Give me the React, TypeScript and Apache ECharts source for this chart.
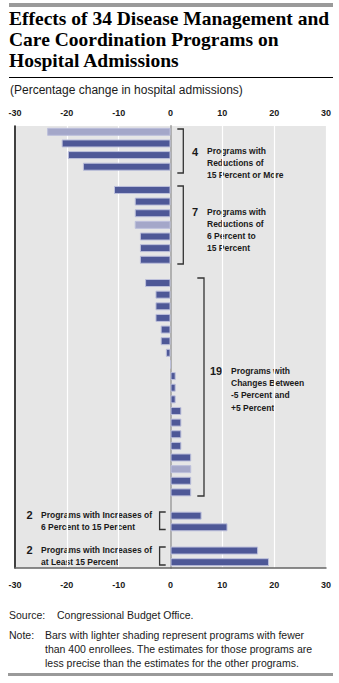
import React, { useEffect, useRef } from "react";
import * as echarts from "echarts";

// Percentage change in hospital admissions, by group
const reductions15OrMore = [-23.8, -21.0, -19.8, -16.9];
const reductions6To15 = [-10.9, -6.9, -6.9, -6.9, -5.9, -5.9, -5.9];
const changesWithin5 = [-4.9, -2.9, -2.9, -2.9, -1.9, -1.9, -0.9, 0, 1.0, 1.0, 1.0, 2.1, 2.1, 2.1, 2.1, 4.0, 4.0, 4.0, 4.0];
const increases6To15 = [6.0, 11.0];
const increases15OrMore = [16.9, 19.0];

// index (within each group) of programs with fewer than 400 enrollees (lighter shading)
const lightReductions15OrMore = [0];
const lightReductions6To15 = [3];
const lightChangesWithin5 = [16];
const lightIncreases6To15: number[] = [];
const lightIncreases15OrMore: number[] = [];

const xMin = -30;
const xMax = 30;
const xInterval = 10;

const DARK = "#4e5897";
const LIGHT = "#a4a7c9";

const groups = [
  { values: reductions15OrMore, light: lightReductions15OrMore },
  { values: reductions6To15, light: lightReductions6To15 },
  { values: changesWithin5, light: lightChangesWithin5 },
  { values: increases6To15, light: lightIncreases6To15 },
  { values: increases15OrMore, light: lightIncreases15OrMore },
];

const categories: string[] = [];
const barData: any[] = [];
let programNo = 0;
groups.forEach((g, gi) => {
  if (gi > 0) {
    categories.push("gap" + gi);
    barData.push("-");
  }
  g.values.forEach((v, i) => {
    programNo += 1;
    categories.push("P" + programNo);
    const isLight = g.light.includes(i);
    barData.push({
      value: v,
      itemStyle: { color: isLight ? LIGHT : DARK },
    });
  });
});

const SANS = "'Liberation Sans', Arial, sans-serif";
const SERIF = "'Liberation Serif', 'Times New Roman', serif";
const INK = "#1a1a1a";

function lines(x: number, yFirst: number, text: string, lh = 12) {
  return {
    type: "text",
    x,
    y: yFirst - lh / 2,
    style: {
      text,
      fill: INK,
      font: `bold 8.5px ${SANS}`,
      lineHeight: lh,
      verticalAlign: "top",
      align: "left",
    },
  };
}
function num(x: number, y: number, text: string) {
  return {
    type: "text",
    x,
    y,
    style: { text, fill: INK, font: `bold 11px ${SANS}`, verticalAlign: "middle", align: "left" },
  };
}
function bracket(xTick: number, xV: number, y1: number, y2: number) {
  return {
    type: "polyline",
    shape: { points: [[xTick, y1], [xV, y1], [xV, y2], [xTick, y2]] },
    style: { stroke: "#333", lineWidth: 1.3, fill: "none" },
  };
}

export default function App() {
  const ref = useRef<HTMLDivElement>(null);
  useEffect(() => {
    if (!ref.current) return;
    const chart = echarts.init(ref.current, null, { renderer: "svg" });
    chart.setOption({
      animation: false,
      backgroundColor: "#ffffff",
      grid: {
        left: 15,
        right: 13,
        top: 126,
        bottom: 115,
        show: true,
        backgroundColor: "#e6e6e6",
        borderWidth: 0,
      },
      xAxis: [
        {
          type: "value",
          min: xMin,
          max: xMax,
          interval: xInterval,
          position: "bottom",
          axisLine: { show: true, onZero: false, lineStyle: { color: "#666", width: 1.5 } },
          axisTick: { show: false },
          axisLabel: { margin: 12, color: INK, fontFamily: SANS, fontWeight: "bold", fontSize: 9 },
          splitLine: { show: true, lineStyle: { color: "#ffffff", width: 1.2 } },
        },
        {
          type: "value",
          min: xMin,
          max: xMax,
          interval: xInterval,
          position: "top",
          axisLine: { show: false },
          axisTick: { show: false },
          axisLabel: { margin: 9, color: INK, fontFamily: SANS, fontWeight: "bold", fontSize: 9 },
          splitLine: { show: false },
        },
      ],
      yAxis: [
        {
          type: "category",
          data: categories,
          inverse: true,
          axisLine: { show: true, onZero: true, lineStyle: { color: "#b0b0b0", width: 2 } },
          axisTick: { show: false },
          axisLabel: { show: false },
          splitLine: { show: false },
        },
        {
          type: "category",
          data: categories,
          inverse: true,
          position: "left",
          axisLine: { show: true, onZero: false, lineStyle: { color: "#111", width: 1.6 } },
          axisTick: { show: false },
          axisLabel: { show: false },
          splitLine: { show: false },
        },
      ],
      series: [
        {
          type: "bar",
          xAxisIndex: 0,
          yAxisIndex: 0,
          data: barData,
          barWidth: 8,
          itemStyle: { borderColor: "#bcbfdb", borderWidth: 1 },
        },
      ],
      graphic: [
        { type: "rect", shape: { x: 9, y: 3, width: 324, height: 4 }, style: { fill: "#9a9a9a" } },
        {
          type: "text",
          x: 9,
          y: 8,
          style: {
            text: "Effects of 34 Disease Management and\nCare Coordination Programs on\nHospital Admissions",
            font: `bold 19.5px ${SERIF}`,
            lineHeight: 21,
            fill: "#000",
            verticalAlign: "top",
          },
        },
        { type: "line", shape: { x1: 9, y1: 77.5, x2: 333, y2: 77.5 }, style: { stroke: "#000", lineWidth: 1 } },
        {
          type: "text",
          x: 10,
          y: 90,
          style: { text: "(Percentage change in hospital admissions)", font: `12px ${SANS}`, fill: INK, verticalAlign: "middle" },
        },
        // group 1
        bracket(177.3, 183.3, 129, 173),
        num(192, 151.5, "4"),
        lines(207, 151.5, "Programs with\nReductions of\n15 Percent or More", 11.6),
        // group 2
        bracket(177.3, 183.3, 186, 264),
        num(192, 212, "7"),
        lines(207, 212, "Programs with\nReductions of\n6 Percent to\n15 Percent"),
        // group 3
        bracket(197.3, 204, 278, 496),
        num(210, 371, "19"),
        lines(231, 371, "Programs with\nChanges Between\n-5 Percent and\n+5 Percent", 12.2),
        // group 4
        bracket(165.7, 159.6, 512, 529.5),
        num(26.5, 515, "2"),
        lines(41, 515, "Programs with Increases of\n6 Percent to 15 Percent"),
        // group 5
        bracket(165.7, 159.6, 547, 565),
        num(26.5, 550, "2"),
        lines(41, 550, "Programs with Increases of\nat Least 15 Percent"),
        // source / note
        {
          type: "text",
          x: 9,
          y: 615,
          style: { text: "Source:", font: `10.5px ${SANS}`, fill: INK, verticalAlign: "middle" },
        },
        {
          type: "text",
          x: 57,
          y: 615,
          style: { text: "Congressional Budget Office.", font: `10.5px ${SANS}`, fill: INK, verticalAlign: "middle" },
        },
        {
          type: "text",
          x: 9,
          y: 635,
          style: { text: "Note:", font: `10.5px ${SANS}`, fill: INK, verticalAlign: "middle" },
        },
        {
          type: "text",
          x: 45,
          y: 635 - 7,
          style: {
            text: "Bars with lighter shading represent programs with fewer\nthan 400 enrollees. The estimates for those programs are\nless precise than the estimates for the other programs.",
            font: `10.5px ${SANS}`,
            lineHeight: 14,
            fill: INK,
            verticalAlign: "top",
          },
        },
        { type: "rect", shape: { x: 8, y: 673, width: 325, height: 3 }, style: { fill: "#9a9a9a" } },
      ],
    });
    return () => chart.dispose();
  }, []);
  return (
    <div
      ref={ref}
      style={{ position: "fixed", left: 0, top: 0, width: 339, height: 683, background: "#fff" }}
    />
  );
}
